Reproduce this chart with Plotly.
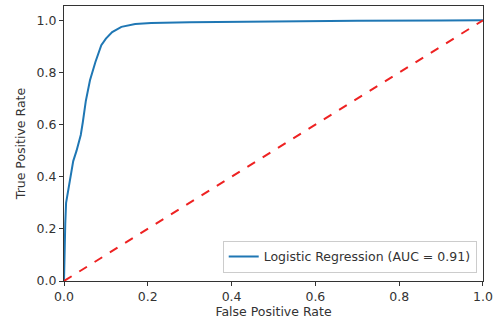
import plotly.graph_objects as go

fpr = [0.0, 0.001, 0.003, 0.005, 0.008, 0.012, 0.018, 0.022, 0.03, 0.04, 0.045, 0.052,
       0.062, 0.075, 0.089, 0.1, 0.115, 0.137, 0.17, 0.208, 0.3, 0.5, 0.7, 0.9, 1.0]
tpr = [0.0, 0.12, 0.22, 0.3, 0.33, 0.37, 0.42, 0.46, 0.5, 0.56, 0.61, 0.69,
       0.77, 0.84, 0.905, 0.93, 0.955, 0.975, 0.986, 0.99, 0.993, 0.996, 0.998, 0.999, 1.0]
diag_x = [0, 1]
diag_y = [0, 1]
label = "Logistic Regression (AUC = 0.91)"
ticks = [0.0, 0.2, 0.4, 0.6, 0.8, 1.0]
tick_text = ["0.0", "0.2", "0.4", "0.6", "0.8", "1.0"]

FS = 12.5

fig = go.Figure()
fig.add_trace(go.Scatter(x=fpr, y=tpr, mode="lines", name=label,
                         line=dict(color="#1f77b4", width=2)))
fig.add_trace(go.Scatter(x=diag_x, y=diag_y, mode="lines", showlegend=False,
                         line=dict(color="#ee2222", width=2, dash="dash")))

axis_common = dict(showgrid=False, zeroline=False, showline=True, linecolor="#333",
                   linewidth=1, mirror=True, ticks="outside", ticklen=4, tickcolor="#333",
                   tickfont=dict(family="DejaVu Sans", size=FS, color="#333"),
                   tickvals=ticks, ticktext=tick_text, ticklabeloverflow="allow",
                   automargin=False)

fig.update_layout(
    width=494, height=324,
    margin=dict(l=64, r=11, t=6, b=43, autoexpand=False),
    plot_bgcolor="white", paper_bgcolor="white",
    font=dict(family="DejaVu Sans", size=FS, color="#333"),
    xaxis=dict(range=[0, 1.0001], title=dict(text="False Positive Rate", standoff=2,
               font=dict(size=FS)), **axis_common),
    yaxis=dict(range=[0, 1.055], title=dict(text="True Positive Rate", standoff=8,
               font=dict(size=FS)), **axis_common),
    legend=dict(x=0.985, y=0.03, xanchor="right", yanchor="bottom",
                bordercolor="#ccc", borderwidth=1, bgcolor="white", itemwidth=30,
                font=dict(size=FS, color="#333")),
    showlegend=True,
)

fig.write_html("out.html")
